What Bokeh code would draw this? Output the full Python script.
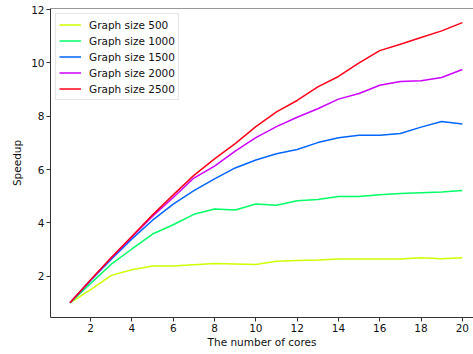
from bokeh.plotting import figure
from bokeh.models import Range1d, FixedTicker, Span, Legend, LegendItem
from bokeh.embed import file_html
from bokeh.resources import INLINE

cores = list(range(1, 21))
labels = ["Graph size 500", "Graph size 1000", "Graph size 1500", "Graph size 2000", "Graph size 2500"]
colors = ["#ccff00", "#00ff66", "#0066ff", "#cc00ff", "#ff0018"]

speedup_500 = [1.0, 1.5, 2.03, 2.24, 2.38, 2.38, 2.43, 2.48, 2.46, 2.44,
               2.56, 2.59, 2.61, 2.64, 2.64, 2.64, 2.64, 2.69, 2.65, 2.69]
speedup_1000 = [1.0, 1.73, 2.45, 3.02, 3.58, 3.93, 4.32, 4.52, 4.48, 4.71,
                4.66, 4.83, 4.88, 4.99, 4.99, 5.05, 5.1, 5.13, 5.16, 5.21]
speedup_1500 = [1.0, 1.84, 2.64, 3.4, 4.1, 4.7, 5.21, 5.65, 6.06, 6.36,
                6.59, 6.75, 7.01, 7.19, 7.29, 7.29, 7.35, 7.59, 7.8, 7.71]
speedup_2000 = [1.0, 1.86, 2.68, 3.47, 4.25, 4.95, 5.68, 6.13, 6.69, 7.2,
                7.61, 7.96, 8.28, 8.64, 8.85, 9.16, 9.3, 9.33, 9.45, 9.75]
speedup_2500 = [1.0, 1.87, 2.7, 3.5, 4.3, 5.05, 5.78, 6.4, 6.97, 7.61,
                8.16, 8.59, 9.1, 9.49, 10.0, 10.46, 10.7, 10.95, 11.2, 11.51]
series = [speedup_500, speedup_1000, speedup_1500, speedup_2000, speedup_2500]

x_ticks = [2, 4, 6, 8, 10, 12, 14, 16, 18, 20]
y_ticks = [2, 4, 6, 8, 10, 12]

FONT = "DejaVu Sans"
FS = "10.5px"
AX = "#333333"

p = figure(width=473, height=354, output_backend="svg", toolbar_location=None,
           x_range=Range1d(0.056, 20.54), y_range=Range1d(0.45, 12.04),
           min_border_left=50, min_border_right=0, min_border_top=8, min_border_bottom=37)
p.outline_line_color = None
p.grid.visible = False
p.background_fill_color = "white"

items = []
for lab, col, ys in zip(labels, colors, series):
    r = p.line(cores, ys, line_color=col, line_width=1.5)
    items.append(LegendItem(label=lab, renderers=[r]))

for ax in (p.xaxis[0], p.yaxis[0]):
    ax.axis_line_color = AX
    ax.axis_line_width = 1
    ax.major_tick_line_color = AX
    ax.major_tick_in = 0
    ax.major_tick_out = 4
    ax.minor_tick_line_color = None
    ax.major_label_text_font = FONT
    ax.major_label_text_font_size = FS
    ax.major_label_text_color = "#111111"
    ax.axis_label_text_font = FONT
    ax.axis_label_text_font_size = FS
    ax.axis_label_text_font_style = "normal"
    ax.axis_label_text_color = "#111111"

p.xaxis[0].ticker = FixedTicker(ticks=x_ticks)
p.yaxis[0].ticker = FixedTicker(ticks=y_ticks)
p.xaxis[0].axis_label = "The number of cores"
p.yaxis[0].axis_label = "Speedup"
p.xaxis[0].major_label_standoff = 2
p.xaxis[0].axis_label_standoff = 1
p.yaxis[0].major_label_standoff = 2
p.yaxis[0].axis_label_standoff = 5

p.add_layout(Span(location=12.04, dimension="width", line_color=AX, line_width=1))

legend = Legend(items=items, location="top_left", margin=5, padding=3,
                glyph_width=22, glyph_height=15, label_height=15, spacing=1,
                label_standoff=8, label_text_font=FONT, label_text_font_size=FS,
                label_text_color="#111111",
                border_line_color="#cccccc", border_line_width=1,
                background_fill_color="white", background_fill_alpha=0.8)
p.add_layout(legend)

open("out.html", "w").write(file_html(p, INLINE))
